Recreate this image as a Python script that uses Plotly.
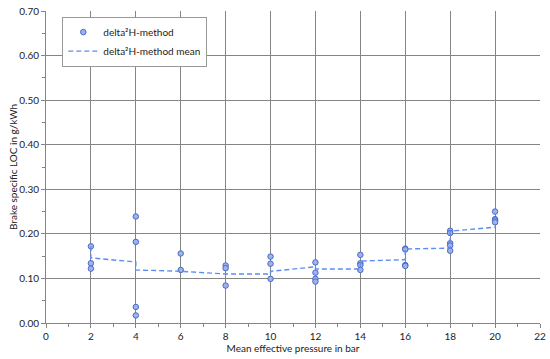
import plotly.graph_objects as go

# Measured points
pressure = [2, 2, 2,
            4, 4, 4, 4,
            6, 6,
            8, 8, 8,
            10, 10, 10,
            12, 12, 12, 12,
            14, 14, 14, 14,
            16, 16, 16, 16,
            18, 18, 18, 18, 18,
            20, 20, 20, 20]
loc = [0.172, 0.134, 0.122,
       0.239, 0.182, 0.036, 0.017,
       0.156, 0.119,
       0.129, 0.123, 0.084,
       0.149, 0.133, 0.099,
       0.136, 0.113, 0.099, 0.093,
       0.153, 0.134, 0.130, 0.119,
       0.167, 0.165, 0.130, 0.128,
       0.207, 0.202, 0.179, 0.174, 0.162,
       0.250, 0.233, 0.230, 0.226]

# Mean line path
mean_x = [2, 2, 4, 4, 6, 8, 10, 10, 12, 12, 14, 14, 16, 16, 18, 18, 20]
mean_y = [0.172, 0.146, 0.137, 0.119, 0.116, 0.110, 0.110, 0.116, 0.126, 0.121,
          0.121, 0.139, 0.142, 0.166, 0.168, 0.206, 0.215]

FONT = "Lato, Open Sans, sans-serif"

fig = go.Figure()
fig.add_trace(go.Scatter(
    x=pressure, y=loc, mode="markers", name="delta²H-method",
    marker=dict(size=5.5, color="#9DB3EC", line=dict(color="#4A68C8", width=1)),
))
fig.add_trace(go.Scatter(
    x=mean_x, y=mean_y, mode="lines", name="delta²H-method mean",
    line=dict(color="#5B8DF2", width=1.4, dash="5px,3px"),
))

fig.update_layout(
    width=550, height=359,
    margin=dict(l=46, r=10, t=11, b=36, autoexpand=False),
    paper_bgcolor="white", plot_bgcolor="white",
    font=dict(family=FONT, size=10, color="#222"),
    showlegend=True,
    legend=dict(x=0.033, y=0.982, xanchor="left", yanchor="top",
                bgcolor="white", bordercolor="#999", borderwidth=1,
                font=dict(size=10, family=FONT), itemwidth=30,
                tracegroupgap=0),
    annotations=[dict(
        text="Brake specific LOC in g/kWh", textangle=-90,
        xref="paper", yref="paper", x=-33 / 494, y=0.5,
        xanchor="center", yanchor="middle", showarrow=False,
        font=dict(size=10, family=FONT, color="#222"),
    )],
)
fig.update_xaxes(
    range=[0, 22], dtick=2, tick0=0, automargin=False,
    showgrid=True, gridcolor="#858585", gridwidth=1,
    showline=True, linecolor="#858585", linewidth=1,
    ticks="outside", ticklen=4, tickcolor="#858585",
    minor=dict(dtick=1, ticks="outside", ticklen=3, tickcolor="#858585", showgrid=False),
    zeroline=False,
    title=dict(text="Mean effective pressure in bar", font=dict(size=10), standoff=3),
    tickfont=dict(size=10),
)
fig.update_yaxes(
    range=[0, 0.7], dtick=0.1, tick0=0, tickformat=".2f", automargin=False,
    showgrid=True, gridcolor="#858585", gridwidth=1,
    showline=True, linecolor="#858585", linewidth=1,
    ticks="outside", ticklen=4, tickcolor="#858585",
    minor=dict(dtick=0.05, ticks="outside", ticklen=3, tickcolor="#858585", showgrid=False),
    zeroline=False,
    tickfont=dict(size=10),
)

fig.write_html(
    "out.html",
    config={"displayModeBar": False},
    post_script="document.body.style.margin='0';document.body.style.overflow='hidden';",
)
